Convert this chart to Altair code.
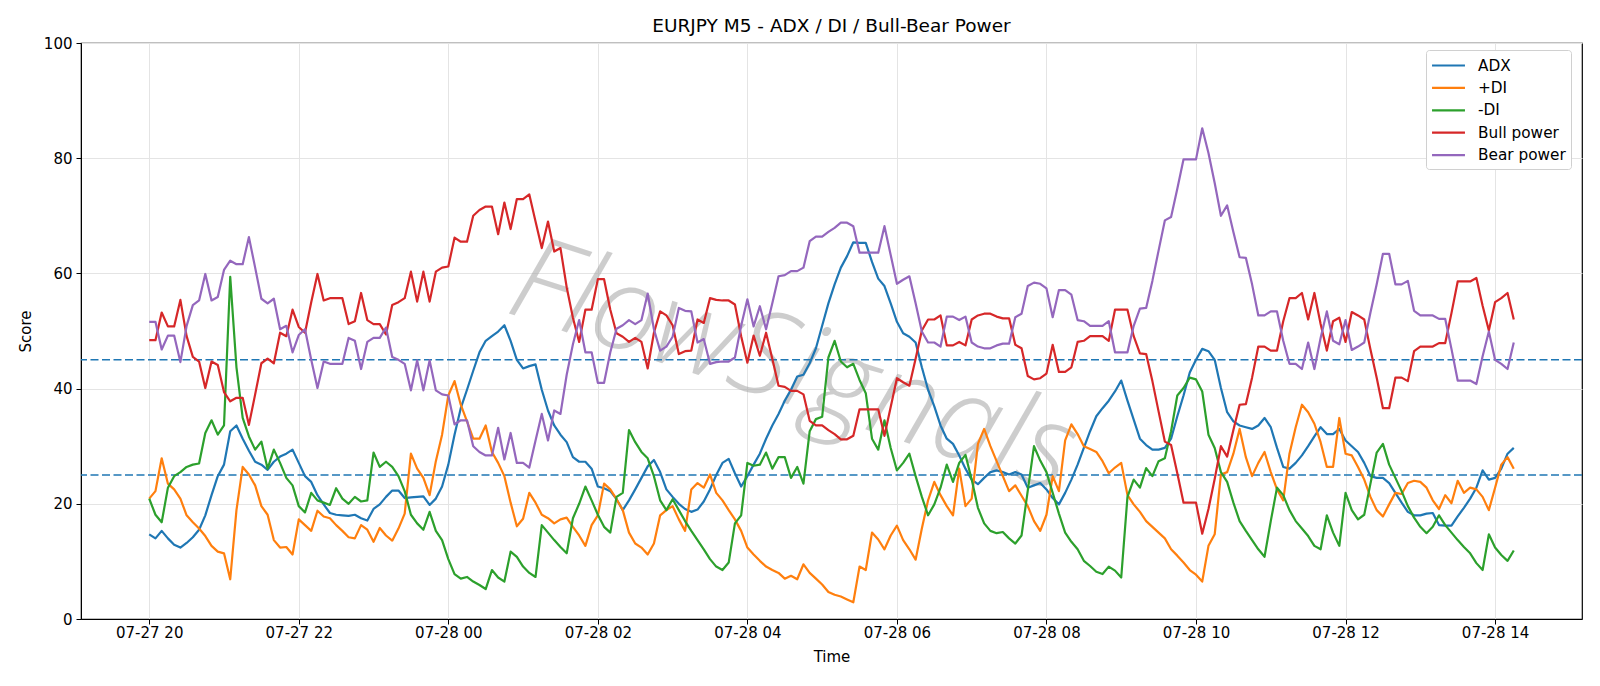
import altair as alt
import pandas as pd

# 5-minute bars, 07-27 20:00 -> 07-28 14:15
START = "2025-07-27 20:00"

adx = [
    14.7, 14.0, 15.3, 14.0, 12.9, 12.4, 13.2, 14.2, 15.5, 18.0,
    21.5, 24.8, 26.8, 32.6, 33.6, 31.3, 29.2, 27.3, 26.8, 25.9,
    27.3, 28.2, 28.7, 29.4, 27.1, 24.8, 23.8, 21.5, 19.9, 18.4,
    18.1, 18.0, 17.9, 18.1, 17.5, 17.1, 19.1, 19.9, 21.2, 22.3,
    22.3, 21.0, 21.1, 21.2, 21.3, 19.8, 20.9, 23.0, 26.8, 32.0,
    36.6, 39.8, 43.1, 46.3, 48.3, 49.1, 49.9, 51.0, 48.3, 45.0,
    43.5, 43.9, 44.2, 39.8, 36.2, 33.6, 32.0, 30.7, 28.1, 27.3,
    27.3, 26.1, 23.0, 22.7, 22.2, 20.8, 18.9, 20.6, 22.5, 24.5,
    26.5, 27.6, 25.5, 22.5, 21.2, 20.0, 19.1, 18.6, 19.0, 20.4,
    22.5, 25.0, 27.1, 27.8, 25.3, 23.0, 24.8, 26.8, 28.7, 31.3,
    33.6, 35.6, 37.9, 39.8, 42.1, 42.4, 44.4, 47.0, 50.9, 54.8,
    58.1, 61.0, 63.0, 65.4, 65.3, 65.3, 62.0, 59.1, 57.8, 54.8,
    51.6, 49.6, 49.0, 48.0, 43.7, 39.8, 36.9, 33.6, 31.3, 30.4,
    28.4, 26.1, 24.2, 23.4, 24.5, 25.5, 25.8, 25.5, 25.1, 25.5,
    25.1, 22.8, 23.2, 23.6, 22.5, 21.0, 19.9, 21.9, 24.2, 26.8,
    29.7, 32.6, 35.2, 36.6, 37.9, 39.5, 41.4, 37.9, 34.6, 31.3,
    30.2, 29.4, 29.4, 29.7, 31.3, 35.2, 38.8, 42.8, 45.0, 46.9,
    46.5, 45.0, 40.1, 35.9, 34.3, 33.6, 33.3, 33.0, 33.6, 34.9,
    33.3, 29.7, 26.4, 26.1, 27.1, 28.4, 30.0, 31.7, 33.3, 32.1,
    32.1, 33.0, 31.0, 30.0, 29.0, 27.1, 24.8, 24.5, 24.5, 23.6,
    21.9, 20.2, 18.6, 18.0, 18.0, 18.3, 18.4, 16.3, 16.2, 16.2,
    17.8, 19.3, 20.9, 22.8, 25.8, 24.2, 24.5, 26.1, 28.7, 29.7,
]

plus_di = [
    20.9, 22.2, 27.9, 23.5, 22.5, 20.9, 18.0, 16.8, 15.7, 14.4,
    12.7, 11.7, 11.4, 6.9, 18.9, 26.4, 25.1, 23.2, 19.6, 18.1,
    13.7, 12.4, 12.5, 11.2, 17.3, 16.3, 15.3, 18.8, 17.8, 17.5,
    16.3, 15.3, 14.2, 14.0, 16.3, 15.5, 13.4, 15.8, 14.5, 13.6,
    15.7, 18.3, 28.7, 26.1, 24.5, 21.5, 27.4, 32.0, 38.8, 41.3,
    37.2, 34.3, 31.3, 31.3, 33.6, 29.0, 27.1, 24.8, 20.2, 16.1,
    17.4, 21.9, 20.2, 18.1, 17.5, 16.6, 17.3, 17.6, 16.0, 14.5,
    12.7, 16.3, 18.0, 23.5, 22.5, 20.8, 18.9, 15.0, 13.1, 12.4,
    11.2, 13.1, 18.0, 18.9, 19.6, 17.3, 15.3, 22.5, 23.6, 22.8,
    25.1, 21.9, 20.6, 18.9, 17.3, 15.3, 12.4, 11.2, 10.1, 9.1,
    8.5, 8.0, 7.0, 7.5, 6.9, 9.5, 8.0, 7.0, 6.0, 4.7,
    4.2, 3.9, 3.4, 2.9, 9.1, 8.5, 15.0, 13.8, 12.1, 14.5,
    16.2, 13.7, 12.1, 10.3, 15.7, 20.6, 23.8, 21.5, 19.6, 18.0,
    26.1, 19.6, 20.9, 30.4, 33.0, 30.0, 27.4, 24.8, 22.2, 23.2,
    21.4, 19.6, 17.0, 15.3, 18.1, 24.8, 22.2, 31.0, 33.8, 32.1,
    30.0, 29.5, 29.0, 27.4, 25.3, 26.3, 27.1, 21.5, 19.9, 18.6,
    17.0, 16.0, 15.0, 14.0, 12.1, 11.0, 9.8, 8.5, 7.7, 6.5,
    12.7, 14.7, 25.1, 25.5, 28.7, 33.0, 28.1, 24.8, 27.1, 29.0,
    25.5, 22.5, 20.6, 28.7, 33.3, 37.2, 35.9, 33.9, 30.7, 26.4,
    26.4, 34.9, 28.7, 28.4, 26.4, 24.2, 21.2, 18.9, 17.8, 19.9,
    21.9, 21.7, 23.6, 24.0, 23.8, 22.8, 20.6, 19.1, 21.5, 20.1,
    24.0, 21.9, 22.8, 22.5, 21.2, 18.9, 22.8, 26.8, 28.1, 26.1,
]

minus_di = [
    20.9, 18.1, 16.8, 22.8, 24.8, 25.5, 26.4, 26.8, 27.0, 32.3,
    34.5, 32.0, 33.6, 59.4, 43.7, 34.9, 31.7, 29.4, 30.8, 26.1,
    29.4, 27.1, 24.5, 23.2, 19.6, 18.5, 21.9, 20.6, 20.2, 19.8,
    22.7, 20.9, 20.0, 21.2, 20.4, 20.6, 28.9, 26.4, 27.3, 26.4,
    24.8, 22.2, 18.1, 16.6, 15.5, 18.6, 15.3, 13.7, 10.4, 7.8,
    7.0, 7.3, 6.5, 5.9, 5.2, 8.5, 7.2, 6.5, 11.7, 10.8,
    9.1, 8.0, 7.3, 16.3, 15.0, 13.7, 12.5, 11.4, 17.5, 20.0,
    23.0, 20.6, 18.1, 16.0, 15.0, 21.2, 21.9, 32.8, 30.7, 29.0,
    27.9, 24.8, 20.6, 18.9, 20.8, 18.9, 17.0, 15.3, 13.7, 12.1,
    10.4, 9.1, 8.5, 9.8, 16.6, 18.0, 27.1, 26.6, 26.8, 28.9,
    26.1, 28.1, 28.1, 24.5, 26.4, 23.5, 32.6, 34.7, 35.1, 45.4,
    48.3, 44.7, 43.7, 44.3, 41.5, 39.2, 31.3, 29.4, 34.5, 29.7,
    25.8, 27.1, 28.7, 24.8, 21.2, 18.0, 19.9, 22.8, 26.8, 23.8,
    27.1, 28.5, 24.2, 19.3, 16.6, 15.3, 14.9, 15.1, 14.0, 13.1,
    14.5, 22.3, 30.0, 27.5, 25.5, 21.9, 18.3, 15.0, 13.4, 12.1,
    10.1, 9.2, 8.2, 7.8, 9.1, 8.4, 7.2, 21.2, 24.2, 22.8,
    26.2, 24.8, 27.4, 27.9, 32.6, 38.8, 40.1, 41.9, 41.6, 39.5,
    32.0, 29.7, 25.5, 23.8, 20.2, 17.0, 15.3, 13.7, 12.1, 10.8,
    17.0, 22.8, 21.5, 18.9, 17.0, 15.7, 14.4, 12.7, 12.1, 18.0,
    15.0, 12.7, 21.9, 18.9, 17.3, 18.1, 23.5, 28.9, 30.4, 26.8,
    24.5, 22.2, 19.6, 17.6, 16.0, 14.9, 16.0, 18.0, 16.3, 15.0,
    13.7, 12.5, 11.4, 9.7, 8.5, 14.7, 12.4, 11.1, 10.1, 11.9,
]

bull_power = [
    48.4, 48.4, 53.2, 50.8, 50.8, 55.4, 49.1, 45.5, 44.7, 40.1,
    44.7, 44.1, 39.4, 37.8, 38.4, 38.4, 33.7, 39.0, 44.4, 45.2,
    44.4, 49.7, 49.1, 53.7, 50.7, 49.7, 55.0, 59.9, 55.3, 55.7,
    55.7, 55.7, 51.2, 51.7, 56.6, 51.9, 51.2, 51.2, 49.4, 54.5,
    55.0, 55.7, 60.3, 55.1, 60.3, 55.1, 60.3, 61.0, 61.2, 66.2,
    65.5, 65.5, 70.0, 71.0, 71.6, 71.6, 66.8, 72.3, 67.7, 72.9,
    72.9, 73.7, 69.0, 64.4, 69.0, 63.8, 64.4, 57.6, 52.3, 48.1,
    53.7, 53.7, 59.0, 59.0, 53.7, 49.6, 49.0, 48.1, 48.8, 48.1,
    43.5, 49.7, 53.4, 52.7, 51.0, 46.0, 46.5, 46.6, 52.0, 51.4,
    55.7, 55.4, 55.3, 55.3, 54.6, 49.1, 44.5, 49.2, 45.7, 49.7,
    45.2, 40.5, 40.3, 39.6, 39.6, 39.0, 34.4, 33.6, 33.6, 32.8,
    32.1, 31.2, 31.2, 31.8, 36.4, 36.4, 36.4, 36.4, 31.8, 36.8,
    41.8, 41.1, 40.5, 45.2, 50.1, 52.0, 52.0, 52.7, 47.5, 47.5,
    48.1, 47.5, 52.0, 52.7, 53.0, 53.0, 52.5, 52.2, 52.2, 47.6,
    47.0, 42.2, 41.6, 41.8, 42.6, 47.6, 42.9, 42.9, 43.7, 48.1,
    48.3, 49.1, 49.1, 49.1, 48.3, 53.7, 53.7, 53.7, 49.1, 46.1,
    46.0, 41.3, 36.0, 30.8, 30.2, 25.3, 20.2, 20.2, 20.2, 14.8,
    19.1, 24.3, 30.0, 28.2, 32.8, 37.2, 37.3, 41.9, 47.3, 47.3,
    46.6, 46.6, 51.7, 55.7, 55.7, 56.6, 52.0, 56.6, 51.2, 46.6,
    51.7, 52.3, 48.1, 53.3, 52.7, 52.0, 46.8, 41.9, 36.6, 36.6,
    41.9, 41.9, 41.3, 46.5, 47.3, 47.3, 47.3, 47.9, 47.9, 53.1,
    58.6, 58.6, 58.6, 59.2, 54.4, 50.1, 55.0, 55.7, 56.6, 52.0,
]

bear_power = [
    51.6, 51.6, 46.8, 49.2, 49.2, 44.6, 50.9, 54.5, 55.3, 59.9,
    55.3, 55.9, 60.6, 62.2, 61.6, 61.6, 66.3, 61.0, 55.6, 54.8,
    55.6, 50.3, 50.9, 46.3, 49.3, 50.3, 45.0, 40.1, 44.7, 44.3,
    44.3, 44.3, 48.8, 48.3, 43.4, 48.1, 48.8, 48.8, 50.6, 45.5,
    45.0, 44.3, 39.7, 44.9, 39.7, 44.9, 39.7, 39.0, 38.8, 33.8,
    34.5, 34.5, 30.0, 29.0, 28.4, 28.4, 33.2, 27.7, 32.3, 27.1,
    27.1, 26.3, 31.0, 35.6, 31.0, 36.2, 35.6, 42.4, 47.7, 51.9,
    46.3, 46.3, 41.0, 41.0, 46.3, 50.4, 51.0, 51.9, 51.2, 51.9,
    56.5, 50.3, 46.6, 47.3, 49.0, 54.0, 53.5, 53.4, 48.0, 48.6,
    44.3, 44.6, 44.7, 44.7, 45.4, 50.9, 55.5, 50.8, 54.3, 50.3,
    54.8, 59.5, 59.7, 60.4, 60.4, 61.0, 65.6, 66.4, 66.4, 67.2,
    67.9, 68.8, 68.8, 68.2, 63.6, 63.6, 63.6, 63.6, 68.2, 63.2,
    58.2, 58.9, 59.5, 54.8, 49.9, 48.0, 48.0, 47.3, 52.5, 52.5,
    51.9, 52.5, 48.0, 47.3, 47.0, 47.0, 47.5, 47.8, 47.8, 52.4,
    53.0, 57.8, 58.4, 58.2, 57.4, 52.4, 57.1, 57.1, 56.3, 51.9,
    51.7, 50.9, 50.9, 50.9, 51.7, 46.3, 46.3, 46.3, 50.9, 53.9,
    54.0, 58.7, 64.0, 69.2, 69.8, 74.7, 79.8, 79.8, 79.8, 85.2,
    80.9, 75.7, 70.0, 71.8, 67.2, 62.8, 62.7, 58.1, 52.7, 52.7,
    53.4, 53.4, 48.3, 44.3, 44.3, 43.4, 48.0, 43.4, 48.8, 53.4,
    48.3, 47.7, 51.9, 46.7, 47.3, 48.0, 53.2, 58.1, 63.4, 63.4,
    58.1, 58.1, 58.7, 53.5, 52.7, 52.7, 52.7, 52.1, 52.1, 46.9,
    41.4, 41.4, 41.4, 40.8, 45.6, 49.9, 45.0, 44.3, 43.4, 48.0,
]

series_names = ["ADX", "+DI", "-DI", "Bull power", "Bear power"]
series_colors = ["#1f77b4", "#ff7f0e", "#2ca02c", "#d62728", "#9467bd"]
thresholds = [45, 25]
y_ticks = [0, 20, 40, 60, 80, 100]
tick_hours = [(27, 20), (27, 22), (28, 0), (28, 2), (28, 4), (28, 6),
              (28, 8), (28, 10), (28, 12), (28, 14)]
watermark = "FlowSignals"

times = pd.date_range(START, periods=len(adx), freq="5min")
frames = []
for name, vals in zip(series_names, [adx, plus_di, minus_di, bull_power, bear_power]):
    frames.append(pd.DataFrame({"time": times, "value": vals, "series": name}))
df = pd.concat(frames, ignore_index=True)

x_domain = [
    alt.DateTime(year=2025, month=7, date=27, hours=19, minutes=5, seconds=15),
    alt.DateTime(year=2025, month=7, date=28, hours=15, minutes=9, seconds=45),
]
x_ticks = [alt.DateTime(year=2025, month=7, date=d, hours=h) for d, h in tick_hours]

x_enc = alt.X(
    "time:T",
    title="Time",
    scale=alt.Scale(domain=x_domain),
    axis=alt.Axis(values=x_ticks, format="%m-%d %H", labelAngle=0,
                  labelPadding=1, titleY=37, titleBaseline="middle"),
)
y_enc = alt.Y(
    "value:Q",
    title="Score",
    scale=alt.Scale(domain=[0, 100], nice=False),
    axis=alt.Axis(values=y_ticks, titleX=-56, titleBaseline="middle"),
)

# short horizontal stroke used as the legend handle
handle = "M-1.83,0H1.83"

lines = alt.Chart(df).mark_line(strokeWidth=2.2, strokeJoin="round").encode(
    x=x_enc,
    y=y_enc,
    color=alt.Color(
        "series:N",
        scale=alt.Scale(domain=series_names, range=series_colors),
        legend=alt.Legend(title=None, orient="none", legendX=1345, legendY=7),
    ),
)

rules = alt.Chart(pd.DataFrame({"level": thresholds})).mark_rule(
    color="#1f77b4", strokeDash=[8, 3.5], strokeWidth=1.5
).encode(y=alt.Y("level:Q", scale=alt.Scale(domain=[0, 100], nice=False)))

mark = alt.Chart(pd.DataFrame({"text": [watermark]})).mark_text(
    font="Open Sans", fontSize=118, fontStyle="italic", fontWeight=300,
    angle=18, color="#a6a6a6", opacity=0.55, align="center", baseline="middle",
).encode(text="text:N", x=alt.value(712), y=alt.value(326))

chart = (
    alt.layer(mark, rules, lines)
    .properties(
        width=1501,
        height=576,
        title="EURJPY M5 - ADX / DI / Bull-Bear Power",
        padding={"left": 81, "top": 43, "right": 18, "bottom": 67},
        autosize=alt.AutoSizeParams(type="none"),
    )
    .configure_view(stroke="black", strokeWidth=1.2)
    .configure_axis(
        labelFont="DejaVu Sans", titleFont="DejaVu Sans",
        labelFontSize=15, titleFontSize=15, titleFontWeight="normal",
        labelColor="black", titleColor="black",
        domainColor="black", tickColor="black", tickSize=5, labelPadding=4,
        gridColor="#e4e4e4", gridWidth=1,
    )
    .configure_title(font="DejaVu Sans", fontSize=18.5, fontWeight="normal",
                     color="black", anchor="middle", offset=1)
    .configure_legend(
        symbolType=handle, symbolStrokeWidth=2.2, symbolSize=324,
        symbolOffset=7,
        labelFont="DejaVu Sans", labelFontSize=15.3, labelColor="black",
        labelOffset=19, rowPadding=3.4, padding=5, cornerRadius=3,
        strokeColor="#d0d0d0", fillColor="white",
    )
)

chart.save("out.html", embed_options={"renderer": "svg", "actions": False})
